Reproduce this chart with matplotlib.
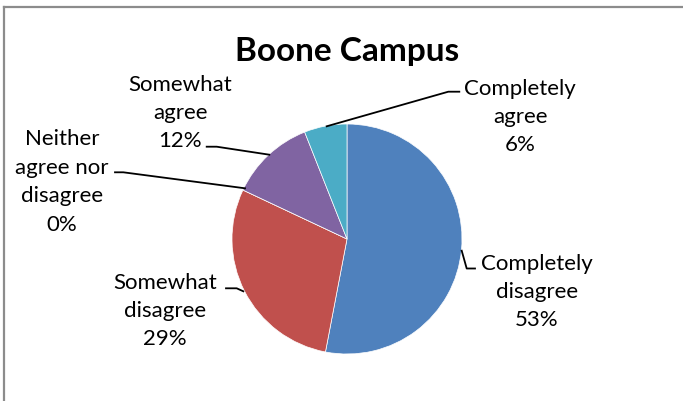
import matplotlib
matplotlib.use("Agg")
import matplotlib.pyplot as plt

# data (clockwise from 12 o'clock)
categories = ["Completely\ndisagree", "Somewhat\ndisagree",
              "Neither\nagree nor\ndisagree", "Somewhat\nagree",
              "Completely\nagree"]
shares = [53, 29, 0, 12, 6]
colors = ["#4F81BD", "#C0504D", "#9BBB59", "#8064A2", "#4BACC6"]

W, H = 683, 402
plt.rcParams["font.family"] = ["Lato", "DejaVu Sans"]

fig = plt.figure(figsize=(W / 100, H / 100), dpi=100)
ax = fig.add_axes([0, 0, 1, 1])
ax.set_xlim(0, W)
ax.set_ylim(H, 0)
ax.axis("off")

# chart frame (only top / left visible in the crop)
ax.plot([3.5, W], [7.5, 7.5], color="#8c8c8c", lw=1.6)
ax.plot([3.5, 3.5], [7.5, H], color="#8c8c8c", lw=1.6)

cx, cy, r = 347, 240, 115
# y axis is inverted, so counterclock=True with negative start draws clockwise
ax.pie(shares, colors=colors, center=(cx, cy), radius=r,
       startangle=-90, counterclock=True,
       wedgeprops=dict(edgecolor="white", linewidth=0.5))
ax.set_xlim(0, W)
ax.set_ylim(H, 0)
ax.set_aspect("equal")

ax.text(347, 51, "Boone Campus", ha="center", va="center",
        fontsize=24, fontweight="bold", color="black")

# label text positions and leader lines (pixel coordinates)
label_pos = [(537, 292), (165, 311), (62, 182), (180, 113), (520, 117)]
leaders = [
    [(461.7, 251.7), (466.7, 269.5), (475, 269.5)],
    [(243.3, 292.3), (236.7, 289.3), (226, 289.3)],
    [(245, 189.3), (123.3, 173.3), (115, 173.3)],
    [(269.3, 155.7), (216.7, 147.7), (206.7, 147.7)],
    [(326.7, 127.3), (448.3, 92.7), (459.3, 92.7)],
]

for cat, val, (tx, ty), pts in zip(categories, shares, label_pos, leaders):
    ax.text(tx, ty, f"{cat}\n{val}%", ha="center", va="center",
            fontsize=16, linespacing=1.53, color="black")
    xs, ys = zip(*pts)
    ax.plot(xs, ys, color="black", lw=1.3)

fig.savefig("out.png", dpi=100, facecolor="white")
